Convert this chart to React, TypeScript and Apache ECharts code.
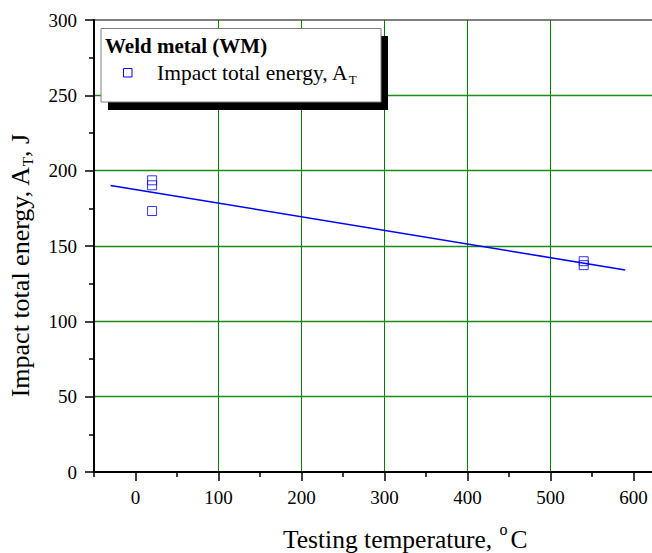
import React, { useEffect, useRef } from "react";
import * as echarts from "echarts";

// ---- data ----
const tempX = [20, 20, 20, 540, 540];
const energyY = [193.6, 190.3, 173.2, 139.9, 137.3];
const fitX = [-30, 590];
const fitY = [190.2, 134.1];
const xMajorTicks = [0, 100, 200, 300, 400, 500, 600];
const xMinorTicks = [-50, 50, 150, 250, 350, 450, 550, 650];
const legendTitle = "Weld metal (WM)";
const legendItem = "Impact total energy, A";

const FONT = "'Liberation Serif', 'Times New Roman', serif";

export default function App() {
  const ref = useRef<HTMLDivElement>(null);

  useEffect(() => {
    if (!ref.current) return;
    const chart = echarts.init(ref.current, undefined, { renderer: "svg" });

    const scatterData = tempX.map((x, i) => [x, energyY[i]]);
    const fitData = fitX.map((x, i) => [x, fitY[i]]);

    const txt = (x: number, y: number, text: string, size: number, extra: any = {}) => ({
      type: "text",
      z: 102,
      x,
      y,
      style: {
        text,
        fontFamily: FONT,
        fontSize: size,
        fill: "#000",
        align: "left",
        verticalAlign: "middle",
        ...extra,
      },
    });

    const option: any = {
      animation: false,
      backgroundColor: "#fff",
      grid: {
        left: 94,
        top: 20,
        right: 15,
        bottom: 81,
        show: true,
        borderColor: "#000",
        borderWidth: 1,
        backgroundColor: "transparent",
      },
      xAxis: [
        {
          type: "value",
          min: -50,
          max: 650,
          position: "bottom",
          axisLine: { show: true, onZero: false, lineStyle: { color: "#000", width: 2 } },
          axisTick: {
            show: true,
            customValues: xMajorTicks,
            length: 9,
            lineStyle: { color: "#000", width: 1.5 },
          },
          axisLabel: {
            customValues: xMajorTicks,
            margin: 16,
            color: "#000",
            fontSize: 19,
            fontFamily: FONT,
          },
          splitLine: {
            show: true,
            showMinLine: false,
            showMaxLine: false,
            lineStyle: { color: "#008000", width: 1 },
          },
        },
        {
          type: "value",
          min: -50,
          max: 650,
          position: "bottom",
          axisLine: { show: false, onZero: false },
          axisTick: {
            show: true,
            customValues: xMinorTicks,
            length: 5,
            lineStyle: { color: "#000", width: 1.5 },
          },
          axisLabel: { show: false },
          splitLine: { show: false },
        },
      ],
      yAxis: {
        type: "value",
        min: 0,
        max: 300,
        interval: 50,
        axisLine: { show: true, onZero: false, lineStyle: { color: "#000", width: 2 } },
        axisTick: { show: true, length: 9, lineStyle: { color: "#000", width: 1.5 } },
        minorTick: { show: true, splitNumber: 2, length: 5, lineStyle: { color: "#000", width: 1.5 } },
        axisLabel: { margin: 17, color: "#000", fontSize: 19, fontFamily: FONT },
        splitLine: {
          show: true,
          showMinLine: false,
          showMaxLine: false,
          lineStyle: { color: "#1a8c1a", width: 1.3 },
        },
      },
      series: [
        {
          type: "line",
          data: fitData,
          showSymbol: false,
          symbol: "none",
          lineStyle: { color: "#0000ff", width: 1.6 },
          z: 3,
        },
        {
          type: "scatter",
          data: scatterData,
          symbol: "rect",
          symbolSize: 9,
          itemStyle: { color: "rgba(0,0,0,0)", borderColor: "#0000ff", borderWidth: 1 },
          z: 4,
        },
      ],
      graphic: [
        {
          type: "rect",
          z: 100,
          shape: { x: 108, y: 36, width: 280, height: 74 },
          style: { fill: "#000" },
        },
        {
          type: "rect",
          z: 101,
          shape: { x: 101, y: 28.5, width: 280, height: 73.5 },
          style: { fill: "#fff", stroke: "#808080", lineWidth: 1 },
        },
        txt(105, 46, legendTitle, 21, { fontWeight: "bold" }),
        {
          type: "rect",
          z: 102,
          shape: { x: 123.5, y: 68.5, width: 8.5, height: 8.5 },
          style: { fill: "none", stroke: "#0000ff", lineWidth: 1 },
        },
        {
          type: "text",
          z: 102,
          x: 157,
          y: 72.5,
          style: {
            text: "{a|" + legendItem + "}{s|T}",
            align: "left",
            verticalAlign: "middle",
            rich: {
              a: { fontFamily: FONT, fontSize: 21.5, lineHeight: 26, fill: "#000", color: "#000" },
              s: { fontFamily: FONT, fontSize: 13, lineHeight: 8, verticalAlign: "bottom", fill: "#000", color: "#000" },
            },
          },
        },
        txt(283, 539, "Testing temperature, ", 25.5),
        txt(499.5, 529, "o", 16),
        txt(510.5, 539, "C", 25.5),
        {
          type: "text",
          z: 102,
          x: 20,
          y: 266,
          rotation: Math.PI / 2,
          style: {
            text: "{a|Impact total energy, A}{s|T}{a|, J}",
            align: "center",
            verticalAlign: "middle",
            rich: {
              a: { fontFamily: FONT, fontSize: 26, lineHeight: 30, fill: "#000", color: "#000" },
              s: { fontFamily: FONT, fontSize: 15, lineHeight: 10, verticalAlign: "bottom", fill: "#000", color: "#000" },
            },
          },
        },
      ],
    };

    chart.setOption(option);
    return () => chart.dispose();
  }, []);

  return (
    <div
      style={{
        position: "fixed",
        left: 0,
        top: 0,
        width: 652,
        height: 553,
        overflow: "hidden",
        background: "#fff",
      }}
    >
      <div ref={ref} style={{ width: 690, height: 553 }} />
    </div>
  );
}
